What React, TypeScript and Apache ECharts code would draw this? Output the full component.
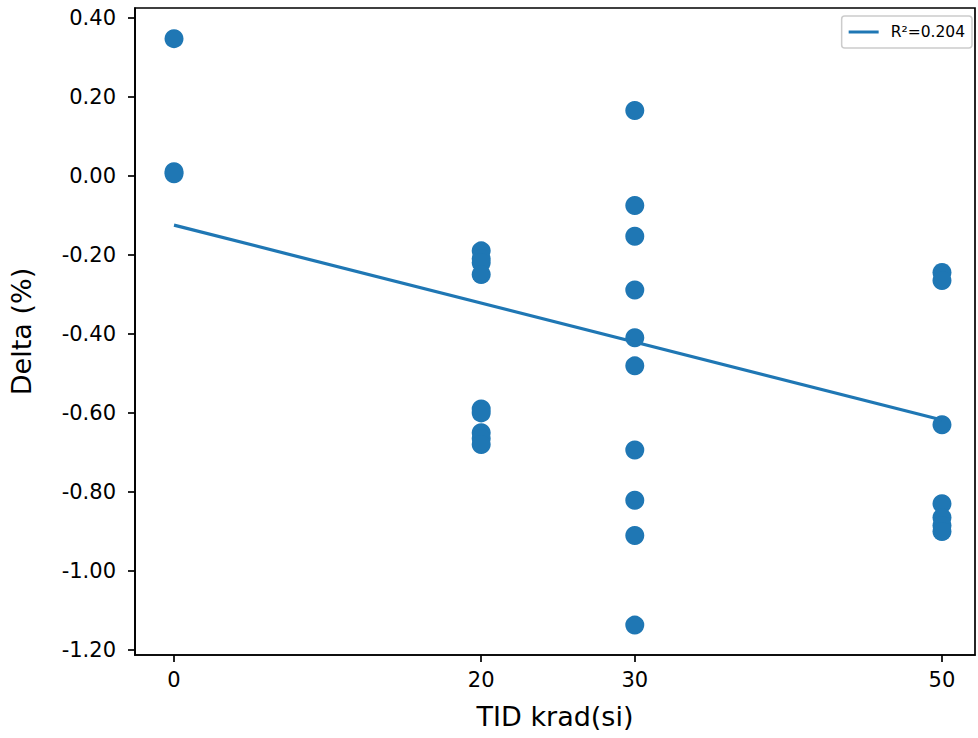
import React, { useEffect, useRef } from "react";
import * as echarts from "echarts";

const doseLevels = [0, 20, 30, 50];
const deltasAt0 = [0.347, 0.01, 0.005];
const deltasAt20 = [-0.19, -0.21, -0.22, -0.25, -0.59, -0.6, -0.65, -0.665, -0.68];
const deltasAt30 = [0.165, -0.075, -0.153, -0.289, -0.41, -0.481, -0.694, -0.821, -0.91, -1.137];
const deltasAt50 = [-0.245, -0.265, -0.63, -0.83, -0.865, -0.885, -0.9];
const fitX = [0, 50];
const fitY = [-0.125, -0.618];
const yTicks = [-1.2, -1.0, -0.8, -0.6, -0.4, -0.2, 0.0, 0.2, 0.4];
const xTicks = [0, 20, 30, 50];
const legendLabel = "R²=0.204";

const FONT = "DejaVu Sans";
const BLUE = "#1f77b4";

export default function App() {
  const ref = useRef<HTMLDivElement>(null);
  useEffect(() => {
    document.body.style.margin = "0";
    if (!ref.current) return;
    const chart = echarts.init(ref.current, undefined, { renderer: "svg" });
    const groups = [deltasAt0, deltasAt20, deltasAt30, deltasAt50];
    const points: number[][] = [];
    groups.forEach((g, i) => g.forEach((v) => points.push([doseLevels[i], v])));
    chart.setOption({
      animation: false,
      backgroundColor: "#fff",
      textStyle: { fontFamily: FONT },
      grid: {
        left: 135,
        right: 3,
        top: 8,
        bottom: 83,
        show: true,
        borderColor: "#000",
        borderWidth: 1.7,
        backgroundColor: "transparent",
      },
      legend: {
        data: [legendLabel],
        right: 6,
        top: 16,
        orient: "vertical",
        icon: "rect",
        itemWidth: 30,
        itemHeight: 3,
        itemGap: 0,
        padding: [8, 7, 8, 7],
        borderColor: "#cccccc",
        borderWidth: 1.5,
        borderRadius: 3,
        backgroundColor: "#fff",
        textStyle: { fontFamily: FONT, fontSize: 15.5, color: "#000", padding: [0, 0, 0, 7] },
      },
      xAxis: {
        type: "value",
        min: -2.54,
        max: 52.15,
        name: "TID krad(si)",
        nameLocation: "middle",
        nameGap: 48,
        nameTextStyle: { fontFamily: FONT, fontSize: 27, color: "#000" },
        splitLine: { show: false },
        axisLine: { show: true, onZero: false, lineStyle: { color: "#000", width: 1.7 } },
        axisTick: {
          show: true,
          inside: false,
          length: 7,
          lineStyle: { color: "#000", width: 1.7 },
          customValues: xTicks,
        },
        axisLabel: {
          fontFamily: FONT,
          fontSize: 21,
          color: "#000",
          margin: 14,
          customValues: xTicks,
          formatter: (v: number) => String(Math.round(v)),
        },
      },
      yAxis: {
        type: "value",
        min: -1.2126,
        max: 0.4245,
        name: "Delta (%)",
        nameLocation: "middle",
        nameGap: 100,
        nameTextStyle: { fontFamily: FONT, fontSize: 27, color: "#000" },
        splitLine: { show: false },
        axisLine: { show: true, onZero: false, lineStyle: { color: "#000", width: 1.7 } },
        axisTick: {
          show: true,
          inside: false,
          length: 7,
          lineStyle: { color: "#000", width: 1.7 },
          customValues: yTicks,
        },
        axisLabel: {
          fontFamily: FONT,
          fontSize: 21,
          color: "#000",
          margin: 19,
          customValues: yTicks,
          formatter: (v: number) => (Math.abs(v) < 1e-9 ? "0.00" : v.toFixed(2)),
        },
      },
      series: [
        {
          type: "scatter",
          name: "data",
          data: points,
          symbol: "circle",
          symbolSize: 19,
          itemStyle: { color: BLUE, opacity: 1 },
          z: 2,
        },
        {
          type: "line",
          name: legendLabel,
          data: fitX.map((x, i) => [x, fitY[i]]),
          symbol: "none",
          lineStyle: { color: BLUE, width: 3.2 },
          itemStyle: { color: BLUE },
          z: 3,
        },
      ],
    });
    return () => chart.dispose();
  }, []);
  return <div ref={ref} style={{ width: 978, height: 738 }} />;
}
